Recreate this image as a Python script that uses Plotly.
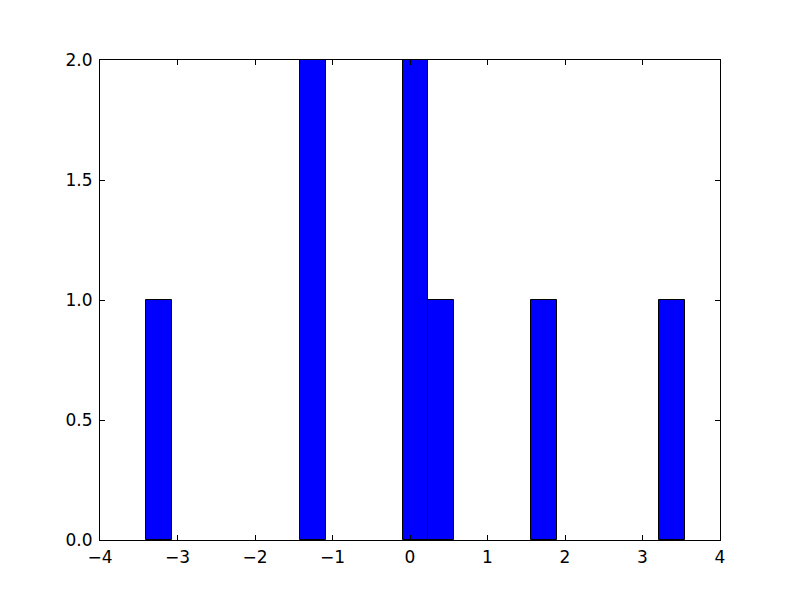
import plotly.graph_objects as go

# Histogram bins
bin_start = -3.404
bin_width = 0.331
bin_index = [0, 6, 10, 11, 15, 20]
counts = [1, 2, 2, 1, 1, 1]

x_ticks = [-4, -3, -2, -1, 0, 1, 2, 3, 4]
y_ticks = [0.0, 0.5, 1.0, 1.5, 2.0]

centers = [bin_start + (k + 0.5) * bin_width for k in bin_index]

fig = go.Figure(go.Bar(
    x=centers, y=counts, width=[bin_width] * len(counts),
    marker=dict(color="#0000ff", line=dict(color="black", width=1)),
))

axis_common = dict(
    showline=True, linecolor="black", linewidth=1, mirror="allticks",
    ticks="inside", ticklen=5, tickcolor="black", showgrid=False, zeroline=False,
    tickfont=dict(family="DejaVu Sans", size=17, color="black"),
)

fig.update_layout(
    width=800, height=600,
    margin=dict(l=92, r=88, t=52, b=68),
    paper_bgcolor="white", plot_bgcolor="white",
    showlegend=False, bargap=0,
    xaxis=dict(range=[-4, 4], tickvals=x_ticks, ticklabelstandoff=2, **axis_common),
    yaxis=dict(range=[0, 2], tickvals=y_ticks, tickformat=".1f", ticklabelstandoff=3, **axis_common),
)

fig.write_html("out.html")
